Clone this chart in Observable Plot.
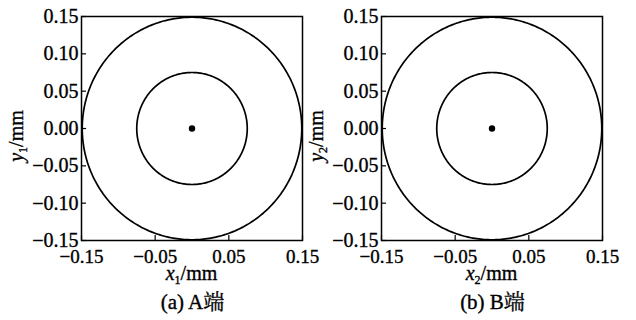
<!DOCTYPE html>
<html><head><meta charset="utf-8">
<script src="https://cdn.jsdelivr.net/npm/d3@7"></script>
<script src="https://cdn.jsdelivr.net/npm/@observablehq/plot@0.6"></script>
<style>
body{margin:0;background:#fff;}
#wrap{position:relative;width:636px;height:320px;background:#fff;}
.panel{position:absolute;top:0;width:318px;}
.panel svg{overflow:visible;max-width:none;}
</style></head><body><div id="wrap"></div>
<script>
const panelIds = ["A", "B"];
const panelCaptions = ["(a) A端", "(b) B端"];
const axisSubscripts = ["1", "2"];
const xTicks = [-0.15, -0.05, 0.05, 0.15];
const yTicks = [-0.15, -0.10, -0.05, 0.00, 0.05, 0.10, 0.15];
const axisDomain = [-0.15, 0.15];
const outerRadius = [0.149, 0.149];
const innerRadius = [0.075, 0.075];
const centerX = [0, 0];
const centerY = [0, 0];

const FONT = "Liberation Serif, Noto Serif CJK SC, Noto Sans CJK SC, serif";
const wrap = document.getElementById("wrap");
const layouts = [{left: 0, ml: 81, mr: 16}, {left: 318, ml: 63, mr: 34}];

panelIds.forEach((id, i) => {
  const radii = [outerRadius[i], innerRadius[i]];
  const rings = radii.flatMap((r, k) => d3.range(0, 361, 1).map(a => ({
    ring: k,
    x: centerX[i] + r * Math.cos(a * Math.PI / 180),
    y: centerY[i] + r * Math.sin(a * Math.PI / 180)
  })));
  const L = layouts[i];
  const W = 318, H = 320;
  const svg = Plot.plot({
    width: W, height: H,
    marginLeft: L.ml, marginRight: L.mr, marginTop: 16, marginBottom: 80,
    style: {fontFamily: FONT, fontSize: "19px", color: "#000", background: "transparent", overflow: "visible"},
    x: {domain: axisDomain},
    y: {domain: axisDomain},
    marks: [
      Plot.line(rings, {x: "x", y: "y", z: "ring", stroke: "#000", strokeWidth: 1.7}),
      Plot.dot([{x: centerX[i], y: centerY[i]}], {x: "x", y: "y", r: 3.2, fill: "#000", stroke: null}),
      Plot.axisX(xTicks, {tickSize: -5, tickPadding: 14, fontSize: 19, fontFamily: "Liberation Serif", label: null, tickFormat: d3.format(".2f"), stroke: "#000", strokeWidth: 1.2}),
      Plot.axisY(yTicks, {tickSize: -5, tickPadding: 8, fontSize: 20, fontFamily: "Liberation Serif", label: null, tickFormat: d3.format(".2f"), stroke: "#000", strokeWidth: 1.2}),
      Plot.frame({stroke: "#000", strokeWidth: 1.5})
    ]
  });
  const div = document.createElement("div");
  div.className = "panel";
  div.style.left = L.left + "px";
  div.appendChild(svg);
  wrap.appendChild(div);

  const s = d3.select(svg);
  const cx = (L.ml + W - L.mr) / 2;
  // x axis label
  const xl = s.append("text").attr("x", cx).attr("y", 280).attr("text-anchor", "middle")
    .attr("font-family", "Liberation Serif").attr("font-size", 20).attr("fill", "#000");
  xl.append("tspan").attr("font-style", "italic").text("x");
  xl.append("tspan").attr("font-size", 12).attr("dy", 4).text(axisSubscripts[i]);
  xl.append("tspan").attr("dy", -4).text("/mm");
  // y axis label
  const yl = s.append("text").attr("transform", `translate(${L.ml - 58},136) rotate(-90)`)
    .attr("text-anchor", "middle").attr("font-family", "Liberation Serif").attr("font-size", 20).attr("fill", "#000");
  yl.append("tspan").attr("font-style", "italic").text("y");
  yl.append("tspan").attr("font-size", 12).attr("dy", 4).text(axisSubscripts[i]);
  yl.append("tspan").attr("dy", -4).text("/mm");
  // caption
  s.append("text").attr("x", cx + 1).attr("y", 309).attr("text-anchor", "middle")
    .attr("font-family", FONT).attr("font-size", 21).attr("fill", "#000")
    .text(panelCaptions[i]);
  // slightly heavier glyphs, as in the reference
  s.selectAll("text").attr("stroke", "#000").attr("stroke-width", 0.35);
});
</script></body></html>
